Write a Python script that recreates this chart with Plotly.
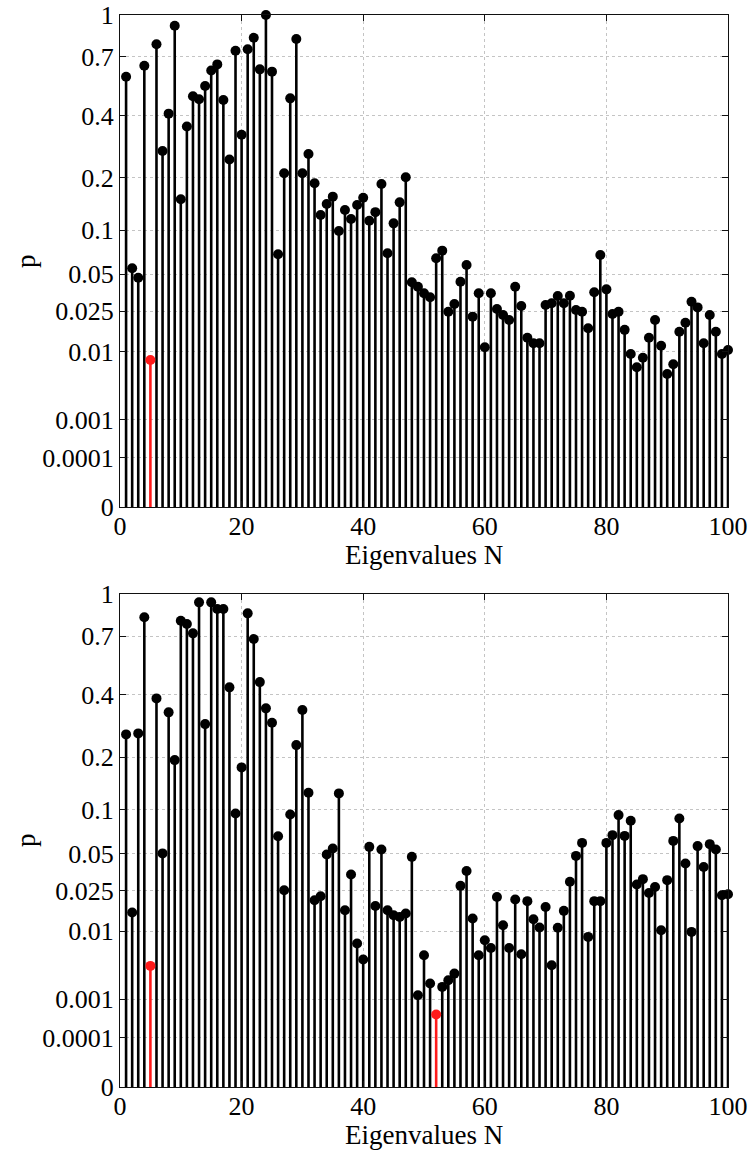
import numpy as np
import plotly.graph_objects as go

# Eigenvalue index
n = list(range(1, 101))

# p-values per eigenvalue, upper panel
p_top = [
    0.585, 0.0554, 0.0472, 0.647, 0.00797, 0.782, 0.274, 0.4085, 0.916, 0.153,
    0.358, 0.4855, 0.4714, 0.536, 0.620, 0.655, 0.468, 0.249, 0.740, 0.328,
    0.749, 0.828, 0.626, 1.0, 0.613, 0.0696, 0.2116, 0.476, 0.8187, 0.2116,
    0.265, 0.1873, 0.124, 0.1439, 0.1583, 0.099, 0.1328, 0.1174, 0.142, 0.156,
    0.1147, 0.129, 0.1858, 0.0707, 0.1105, 0.147, 0.2016, 0.0435, 0.0402, 0.0356,
    0.033, 0.0653, 0.0737, 0.0248, 0.029, 0.044, 0.0585, 0.0224, 0.0356, 0.0111,
    0.0356, 0.0262, 0.0232, 0.0209, 0.0402, 0.0279, 0.014, 0.01225, 0.01225, 0.0284,
    0.0294, 0.0338, 0.0294, 0.034, 0.0257, 0.0248, 0.0174, 0.0363, 0.0688, 0.0383,
    0.0237, 0.0248, 0.0168, 0.00935, 0.0065, 0.00848, 0.014, 0.0209, 0.01156, 0.00534,
    0.00707, 0.0161, 0.0197, 0.0303, 0.0271, 0.01225, 0.0232, 0.0161, 0.00935, 0.01037,
]

# p-values per eigenvalue, lower panel
p_bottom = [
    0.2617, 0.0157, 0.2647, 0.824, 0.00364, 0.386, 0.0504, 0.3335, 0.1933, 0.800,
    0.778, 0.717, 0.934, 0.2936, 0.934, 0.8836, 0.8836, 0.4318, 0.0948, 0.1766,
    0.852, 0.6818, 0.455, 0.348, 0.298, 0.067, 0.0254, 0.0934, 0.2313, 0.3417,
    0.1268, 0.0206, 0.0224, 0.0495, 0.0548, 0.1258, 0.01654, 0.0345, 0.00717, 0.00447,
    0.0563, 0.0182, 0.0539, 0.01654, 0.01475, 0.01417, 0.01534, 0.0475, 0.0012, 0.0051,
    0.00194, 0.000466, 0.0017, 0.0022, 0.0028, 0.0277, 0.0369, 0.01365, 0.0051, 0.00786,
    0.00633, 0.0221, 0.0116, 0.00633, 0.0209, 0.00526, 0.0202, 0.0134, 0.01095, 0.0178,
    0.00372, 0.0109, 0.0163, 0.030, 0.0483, 0.0601, 0.00859, 0.0202, 0.0202, 0.0601,
    0.0681, 0.0925, 0.0673, 0.085, 0.0285, 0.0316, 0.024, 0.0271, 0.01023, 0.031,
    0.0621, 0.088, 0.0423, 0.0098, 0.057, 0.0397, 0.0589, 0.0539, 0.0229, 0.0234,
]

# Highlighted eigenvalues (drawn in red)
red_top = [5]
red_bottom = [5, 52]

# Axis ticks
p_ticks = [0, 0.0001, 0.001, 0.01, 0.025, 0.05, 0.1, 0.2, 0.4, 0.7, 1]
p_tick_text = ["0", "0.0001", "0.001", "0.01", "0.025", "0.05", "0.1", "0.2", "0.4", "0.7", "1"]
x_ticks = [0, 20, 40, 60, 80, 100]


def scale(p):
    """Fourth-root scale used on the p axis."""
    return float(np.power(p, 0.25))


FONT = "Liberation Serif"
BLACK = "#000000"
RED = "#ff1a1a"
W, H = 754, 1151


def stem_traces(values, highlight, xa, ya):
    traces = []
    for color, keep in ((BLACK, lambda k: k not in highlight), (RED, lambda k: k in highlight)):
        xs, ys, mx, my = [], [], [], []
        for k, v in zip(n, values):
            if not keep(k):
                continue
            xs += [k, k, None]
            ys += [0, scale(v), None]
            mx.append(k)
            my.append(scale(v))
        traces.append(go.Scatter(
            x=xs, y=ys, mode="lines", xaxis=xa, yaxis=ya,
            line=dict(color=color, width=2.6), hoverinfo="skip",
            showlegend=False, cliponaxis=False,
        ))
        traces.append(go.Scatter(
            x=mx, y=my, mode="markers", xaxis=xa, yaxis=ya,
            marker=dict(color=color, size=10, line=dict(width=0)),
            showlegend=False, cliponaxis=False,
        ))
    return traces


fig = go.Figure()
for tr in stem_traces(p_top, red_top, "x", "y"):
    fig.add_trace(tr)
for tr in stem_traces(p_bottom, red_bottom, "x2", "y2"):
    fig.add_trace(tr)

xdom = [120 / W, 728 / W]
ydom_top = [(H - 507) / H, (H - 15) / H]
ydom_bot = [(H - 1087) / H, (H - 594) / H]

axis_common = dict(
    showline=True, linecolor="#111111", linewidth=1.2, mirror="ticks",
    ticks="inside", ticklen=6, tickwidth=1, tickcolor="#111111",
    showgrid=True, gridcolor="#c4c4c4", griddash="dot", gridwidth=1,
    zeroline=False, automargin=False,
    tickfont=dict(family=FONT, size=26, color=BLACK),
)

xaxis_cfg = dict(axis_common, range=[0, 100], tickmode="array", tickvals=x_ticks,
                 ticktext=[str(t) for t in x_ticks], domain=xdom, ticklabelstandoff=-4)
yaxis_cfg = dict(axis_common, range=[0, 1], tickmode="array",
                 tickvals=[scale(t) for t in p_ticks], ticktext=p_tick_text)


def label(text, px, py, angle=0):
    return dict(text=text, x=px / W, y=(H - py) / H, xref="paper", yref="paper",
                xanchor="center", yanchor="middle", textangle=angle, showarrow=False,
                font=dict(family=FONT, size=27, color=BLACK))


fig.update_layout(
    width=W, height=H,
    margin=dict(l=0, r=0, t=0, b=0, autoexpand=False),
    paper_bgcolor="white", plot_bgcolor="white",
    xaxis=dict(xaxis_cfg, anchor="y"),
    yaxis=dict(yaxis_cfg, anchor="x", domain=ydom_top),
    xaxis2=dict(xaxis_cfg, anchor="y2"),
    yaxis2=dict(yaxis_cfg, anchor="x2", domain=ydom_bot),
    annotations=[
        label("Eigenvalues N", 424, 555),
        label("Eigenvalues N", 424, 1135),
        label("p", 26, 261, -90),
        label("p", 26, 840, -90),
    ],
)

fig.write_html("out.html")
